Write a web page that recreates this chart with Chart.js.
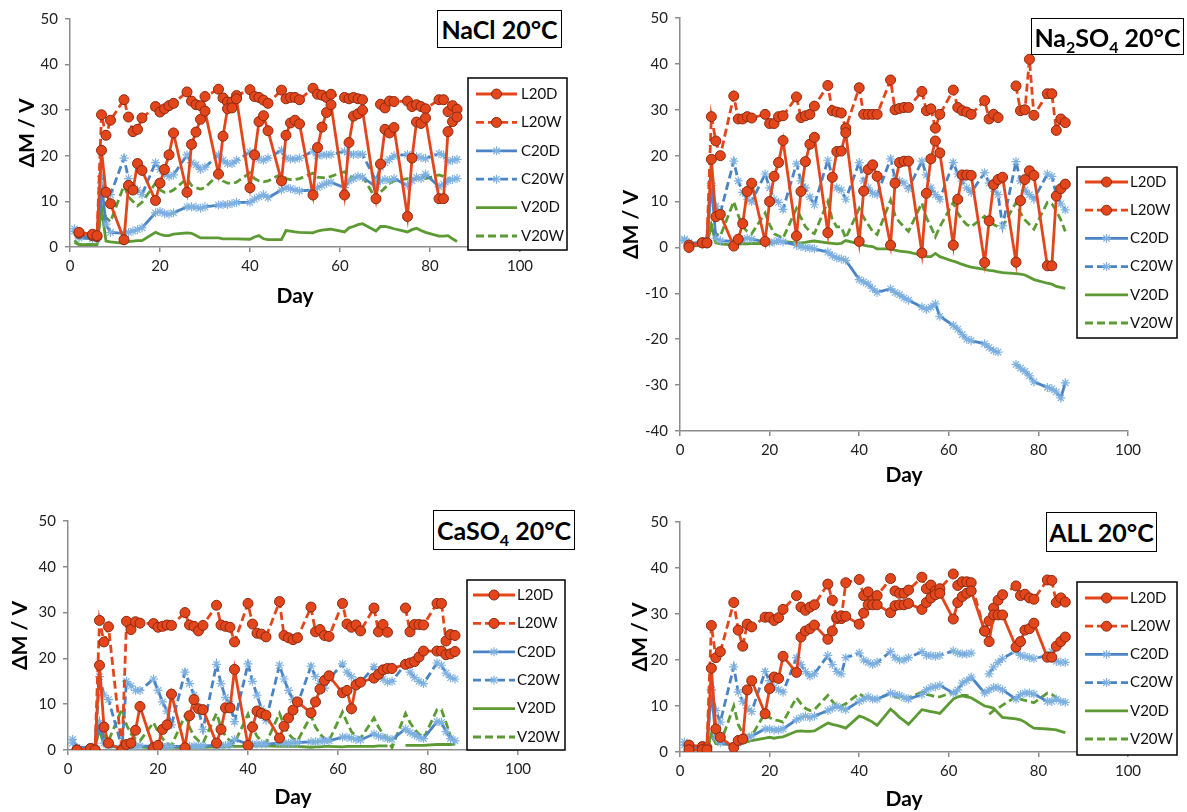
<!DOCTYPE html>
<html>
<head>
<meta charset="utf-8">
<script src="https://cdn.jsdelivr.net/npm/chart.js@4.4.1/dist/chart.umd.min.js"></script>
<style>
  body { margin: 0; background: #fff; width: 1187px; height: 812px; position: relative; overflow: hidden; font-family: Lato, sans-serif; }
  canvas { position: absolute; }
  .tbox { position: absolute; border: 1.5px solid #000; background: #fff; font-weight: bold; font-size: 25px;
          display: flex; align-items: center; justify-content: center; box-sizing: border-box; white-space: nowrap; color: #000; }
  .tbox sub { font-size: 16px; vertical-align: -6px; line-height: 0; }
</style>
</head>
<body>
<canvas id="c1" width="590" height="310" style="left:0;top:0"></canvas>
<canvas id="c2" width="587" height="490" style="left:600px;top:0"></canvas>
<canvas id="c3" width="590" height="312" style="left:0;top:500px"></canvas>
<canvas id="c4" width="587" height="312" style="left:600px;top:500px"></canvas>

<div class="tbox" style="left:437px;top:10px;width:125px;height:38px"><span>NaCl 20°C</span></div>
<div class="tbox" style="left:1031px;top:18px;width:153px;height:37px"><span>Na<sub>2</sub>SO<sub>4</sub> 20°C</span></div>
<div class="tbox" style="left:433px;top:510px;width:142px;height:40px"><span>CaSO<sub>4</sub> 20°C</span></div>
<div class="tbox" style="left:1046px;top:512px;width:111px;height:40px"><span>ALL 20°C</span></div>

<script>
// measurement days (weekends skipped)
var days = [1,2,5,6,7,8,9, 12,13,14,15,16, 19,20,21,22,23, 26,27,28,29,30, 33,34,35,36,37, 40,41,42,43,44,
  47,48,49,50,51, 54,55,56,57,58, 61,62,63,64,65, 68,69,70,71,72, 75,76,77,78,79, 82,83,84,85,86];
var seriesNames = ['L20D', 'L20W', 'C20D', 'C20W', 'V20D', 'V20W'];

// NaCl 20°C
var naclL20D = [null,3.2,2.8,2.5,21.2,12,9.5, 1.6,13.5,12.5,18.3,16.8, 10.2,14,17,20.2,25, 12,22.5,25.2,28,29.8, 16,24.3,30.3,30.5,32.5,
  13,20.2,27.5,28.8,25.5, 14.5,24.5,27.2,27.8,27, 11.4,21.8,26.3,29.5,31.2, 11.4,22.9,28.7,29.2,30, 10.6,18.2,25.8,25,26.2,
  6.7,19.5,27.4,27.1,28.3, 10.6,10.6,25.3,27.5,28.5];
var naclL20W = [null,3,2.5,2.3,29,24.5,27.8, 32.3,28.5,25.3,25.8,28.3, 30.8,29.6,30.3,31,31.5, 34,32,31.2,31,33, 34.6,32.7,31.8,31.8,33.2,
  34.5,33,32.8,32.2,31.5, 34.4,32.5,32.8,32.8,32.3, 34.8,33.5,33.3,32.8,33.5, 32.8,32.5,32.8,32.5,32.3, null,31.3,30.5,32,31.9,
  32,30.8,31.2,30.8,30.3, 32.3,32.3,29.7,31,30.2];
var naclC20D = [3.5,2,1.8,1.8,14,5,3.2, 3,3.2,3.5,3.8,4.2, 7.5,7.8,7.3,7.2,7.5, 8.8,8.8,8.7,8.5,8.8, 9.2,9.3,9.3,9.5,9.8,
  9.8,10.5,11,11.5,10.8, 12.5,13,12.8,12.5,12.3, 12.5,13,13.5,14,14.2, 13,14.5,15,15.5,15.3, 13.2,14.5,14.8,14.6,15,
  13.5,14.5,15.3,15,16, 13.2,13.8,14.5,14.8,15];
var naclC20W = [4,2.5,2,2,15.5,12,11.5, 19.5,15,13,12.5,11.5, 18.5,17,16,15.5,15.8, 20.2,18.5,18,17,17.5, 20.2,19,18.3,18.3,19,
  20.8,20,19.3,19,19.5, 21.2,19.5,19.3,19.3,19.5, 21,20,20.2,20.2,20.3, 21,20.3,20.3,20.3,20.3, 14.5,17.5,18.5,19.2,20,
  20.3,19.6,19.8,19.6,19.4, 20.5,20.2,18.8,19,19.2];
var naclV20D = [1.5,0.5,0.5,0.5,8.5,1.3,1.1, 0.8,1.2,1.3,1.4,1.4, 3.2,2.8,2.5,2.5,2.8, 3.1,3,2.5,2,2, 2,1.8,1.8,1.8,1.8,
  1.7,2.2,2.5,1.8,1.6, 1.6,3.6,3.5,3.3,3.2, 3.1,3.5,3.7,3.8,3.9, 3.3,4.2,4.5,4.9,5.1, 3.5,4.5,4.5,4.3,4,
  3.3,3.8,4.1,3.6,3.2, 2.4,2.4,2.5,1.8,1.2];
var naclV20W = [1,0.5,0.5,0.5,9,6.5,5.5, 13.5,11,10,9,9.8, 14,12.5,12,12,12.5, 15,13.5,13,12.7,13, 16,14.5,14,14,14.2,
  16.3,15,14.5,14.3,14.5, 16,15,14.8,14.8,15, 16.2,15.3,15.2,15.2,15.5, 16.5,15.5,15.3,15.3,15.5, 10.5,12,13,14,14.5,
  15,14.8,15,15,15, 15.8,15.5,15,14.8,15];

// Na2SO4 20°C
var nasoL20D = [null,0,1,1,19.2,6.7,7.2, 0.3,1.8,5.2,12.2,14, 1.3,10,15.5,18.5,23.3, 2.5,12.2,18.7,22.5,24, 3.2,15.3,20.9,21,25,
  1.3,12.3,17,18,15.5, 0.5,14,18.5,18.8,18.8, -1.2,11.8,19.3,23.2,20.6, 0.5,10.5,15.8,15.8,15.7, -3.3,5.8,13.7,14.8,15.3,
  -3.2,10.2,14.8,16.7,15.7, -4,-4,11.2,12.8,13.8];
var nasoL20W = [null,0.5,1,1,28.5,23.2,20, 33,28,28,28.5,28.2, 29,27,27,28.5,28.7, 32.8,28.3,28.7,29,30.8, 35.3,29.8,29.5,29.3,26,
  34.8,29,29,29,29, 36.5,30,30.3,30.5,30.5, 34,29.8,30.2,26,29, 34.3,30.5,29.8,29.5,29, 32,28,29,28.3,null,
  35.2,29.8,30,41,28.8, 33.5,33.5,25.5,28,27.2];
var nasoC20D = [1.8,1,1,1.5,14,2,1.5, 1.3,1.5,1.7,2,1.8, 1.2,1,1.2,1.5,1.2, 0.5,0.2,0,-0.1,-0.3, -1,-1.8,-2.3,-2.5,-2.8,
  -7,-7.5,-8,-9,-9.8, -9,-9.8,-10.3,-11,-11.5, -13,-13.5,-13,-12.3,-15, -17,-17.8,-19,-20,-20.3, -21,-21.8,-22.5,-22.8,null,
  -25.5,-26.3,-27,-28,-29.3, -30.5,-30.8,-31.5,-32.8,-29.5];
var nasoC20W = [1.5,1,1,1.5,13.5,9,7.5, 18.8,14.5,12,10.5,10, 16,13,10.5,9.8,8.3, 18.2,14.5,13,11,9.3, 19,15.5,13,12.5,10.5,
  18.5,14.5,13,11.8,11.5, 19.3,15,14.5,14,12.8, 18.8,15.8,13,11.5,10.5, 18.5,16,14.5,13,12, 16.3,14,12.8,11.5,4.7,
  18.7,14.5,12.5,11.5,10.5, 16,15.5,11.5,9.5,8.2];
var nasoV20D = [0.5,0.3,0.5,0.8,4.8,1,0.8, 0.5,0.7,0.8,0.8,0.9, 0.8,0.8,1,1.2,1.3, 1,1,1.1,1.3,1.4, 1,0.9,0.8,0.9,1.5,
  0.8,0.5,0.3,0.2,-0.3, -0.3,-0.6,-0.8,-0.9,-1, -1.7,-2,-2,-1.3,-2, -3,-3.3,-3.7,-4,-4.3, -4.8,-5,-5.1,-5.3,-5.5,
  -5.7,-5.8,-6,-6.5,-7, -7.8,-8,-8.5,-8.7,-8.9];
var nasoV20W = [0.5,0.3,0.5,0.8,5,3,2.5, 10,7,4.5,3.5,3, 7.5,5,3,2.5,2, 8.5,6.5,4.5,3.5,3, 10,6,4.5,4.5,2,
  8.5,6.5,5,3.5,2.8, 10.3,7,5.5,4.5,3.5, 9.7,6.5,4.5,2.3,4.5, 9.8,7.5,6,5,4.5, 6.8,5.5,5,4.5,4.5,
  9.8,7.5,6,5,4, 9.8,9.5,8,6,3.5];

// CaSO4 20°C
var casoL20D = [null,0,0.3,0,18.5,5,1.5, 0,1.2,1.5,4.3,9.5, 0.5,1,4.5,5.5,12.2, 0.5,7.5,11,9,8.8, 1.5,4.5,9.2,9.2,17.6,
  1,5,8.5,8,7.6, 2.6,5.2,7,8.7,10.5, 8.1,10.5,13.3,15.2,16.2, 12.5,13,9,14.2,14.8, 15.7,16.5,17.5,17.8,17.8,
  18.7,19,19.3,20.3,21.6, 21.6,21.6,20.8,21,21.5];
var casoL20W = [null,0,0.3,0,28.3,23.6,26.9, 0,28.1,26.3,28,27.7, 27.6,26.8,27,27.3,27.2, 30,27.3,27,26,27.2, 31.6,27.3,27,26.8,23.6,
  32,27.5,25.5,25.3,24.7, 32.4,25,24.5,24.1,24.5, 31.2,25.8,26.3,25,24.8, 32,27.5,26.8,27.3,26, 31,25.8,27.4,25.7,null,
  31,25.8,27.4,27.4,27.3, 32,32,23.8,25.2,25];
var casoC20D = [1.5,0.5,0.5,0.8,6,1.5,1, 0.5,0.8,0.8,0.8,0.9, 0.8,0.8,0.8,0.8,0.8, 0.8,0.8,0.9,0.9,0.9, 1,1,1,1.2,2.3,
  1.3,1.2,1.3,1.3,1.3, 1.5,1.5,1.5,1.6,1.6, 1.8,1.8,1.9,2,2, 2.8,2.8,2.6,2.3,2.2, 3.5,3,2.8,2.5,2.3,
  4.6,3.8,3.3,2.8,2.5, 6.2,6,4,2.5,2];
var casoC20W = [2.3,0.5,0.5,0.8,16,12,11, 0.5,15,14,13,13, 15.5,13,10.5,8.5,5.5, 17,14.5,12,9,4.5, 18.7,14.5,11.5,10,6.2,
  18.8,15,12,9,6.5, 18.5,15.5,13,11,10, 18.3,16,14.5,13.5,15.5, 18.8,17,16,15,14.7, 18.2,16.5,15.5,14.8,15,
  18.8,17,15.8,15,14.5, 19,18.5,16.8,15.8,15.5];
var casoV20D = [0.8,0.3,0.5,0.8,4.5,1,0.8, 0.5,0.6,0.6,0.7,0.7, 0.4,0.5,0.6,0.6,0.6, 0.5,0.5,0.6,0.6,0.6, 0.7,0.7,0.7,0.8,0.8,
  0.8,0.9,0.9,0.9,0.9, 0.8,0.8,0.8,0.8,0.8, 0.6,0.7,0.7,0.8,0.8, 0.7,0.8,0.8,0.8,0.8, 0.8,0.9,0.9,0.9,null,
  1,1,1,1,1, 1.2,1.2,1.2,1.2,1.3];
var casoV20W = [0.5,0.3,0.5,0.8,5,3,2, 9,5.5,3.5,2.5,2, 6,4,2.5,1.5,1, 7.5,5,3,2,1.5, 8,5,3,2,1.5,
  7.8,5,3,2,1.5, 8,5.5,3.5,2.5,2, 7.5,5,3.5,2.5,2, 8.3,6,4,3,2.5, 7,5,3.5,2.5,0.5,
  8,6,4.5,3.5,2.5, 8.8,8.8,6,3,2];

// ALL 20°C
var allL20D = [null,0.5,0.5,0.5,18.2,5,3.2, 1,2.5,2.8,13.5,15.5, 8.3,13.8,16.3,16,20.8, 17.3,25,26.3,26.8,27.6, 24.5,26.3,29.3,29.6,29.5,
  27.8,30.2,32,32,32, 30.3,31.8,32,32,32.3, 31,32.5,33.5,34.2,34.5, 28.9,32.5,33.8,34.5,35, 26.3,24,29.8,29.8,29.8,
  22.8,24,26.5,26.8,28, 20.6,20.6,23,24,25];
var allL20W = [null,1.5,1.2,1,27.5,20.5,21.8, 32.5,26.5,23,27.8,27.2, 29.3,29.3,28.6,29.2,31, 34,31.5,30.8,31.5,32, 36.5,33,29,29,36.8,
  37.5,34,34.8,33,34, 37.7,35,34.5,34.5,35.2, 38,35.5,36.3,35,35.5, 38.7,36.2,37,37,36.8, 26.3,28.5,31.3,33,34.2,
  36.1,34,34.3,33.5,33.2, 37.4,37.3,32.5,33.5,32.6];
var allC20D = [1.5,1.2,1.2,1.2,13.5,3,2, 1.5,2,2.5,3,3.5, 5,5,4.8,4.8,5, 7,7.5,7.8,7.5,7.8, 9,9.5,10,9.5,9.2,
  11,11.5,12,11.5,11.5, 12.8,12.5,12.3,11.8,11.5, 12.5,13.5,14,14.2,14.5, 12.8,13.5,15,15.5,16.3, 12.8,13.5,14,14,13.5,
  11.5,12.5,12.8,12.8,12.6, 11,11,11.5,11,10.8];
var allC20W = [2.2,1,1,1,13.5,9,6.5, 18.5,13,11,9.5,8.8, 17.5,15.5,14,13.5,13, 20.5,19,17.5,16.5,17, 21,19,17.5,17,20.5,
  21.5,20,19.5,19,19.5, 21.8,20.5,20,20,20.5, 21.8,21,21,20.8,21, 22,21.5,21.3,21.3,21.5, null,17,18.5,19.5,20.3,
  22,21,20.8,20.5,20.3, 21,21.8,19.7,19.5,19.5];
var allV20D = [0.5,0.5,0.5,0.5,4,1.8,1.8, 1.5,1.8,2,2.2,2.5, 3,3.2,3,3.2,3.3, 4.5,4.6,4.5,4.5,4.6, 6.3,6,5.8,5.5,5.2,
  7.8,7.5,7,6.5,5.8, 9.3,8.5,7.5,6.8,6, 9.2,9,8.8,8.6,8.4, 11.5,12,12.2,12,11.8, 10,9.8,9.5,8.5,7.5,
  7.2,7,6.5,5.8,5.2, 5,4.9,4.8,4.5,4.2];
var allV20W = [0.5,0.5,0.5,0.5,3.5,2,1.8, 10,6,4,3.5,3.5, 8.5,7.5,7,6.8,6.5, 11.8,10.5,9.5,9,9.2, 12.3,11,10,10,10.5,
  12.7,12,11.8,11.5,11.5, 12.8,12,11.8,11.6,11.8, 13,12.5,12.3,12,12, 13,12.5,12.3,12.3,12, null,8.2,9,9.5,10.2,
  12,11.5,11.2,11,10.7, 12.8,12.5,11.8,11.2,10.8];

var RED = '#e4461c', RED_EDGE = '#8a2a10';
var BLUE = '#4a84c4', BLUE_MARK = '#7fb2e2';
var GREEN = '#5c9a33';
var AXIS = '#8c8c8c';

Chart.defaults.font.family = 'Lato, sans-serif';
Chart.defaults.font.size = 15;
Chart.defaults.color = '#222';

// legend box drawn over the plot like the Excel one
var boxLegend = {
  id: 'boxLegend',
  afterDraw: function(chart, args, o) {
    var ctx = chart.ctx;
    ctx.save();
    ctx.fillStyle = '#fff';
    ctx.fillRect(o.x, o.y, o.w, o.h);
    ctx.strokeStyle = '#000';
    ctx.lineWidth = 1.5;
    ctx.setLineDash([]);
    ctx.strokeRect(o.x, o.y, o.w, o.h);
    chart.data.datasets.forEach(function(ds, i) {
      var y = o.row0 + i * o.gap;
      ctx.strokeStyle = ds.borderColor;
      ctx.lineWidth = ds.borderWidth;
      ctx.setLineDash(ds.borderDash || []);
      ctx.beginPath();
      ctx.moveTo(o.lx1, y);
      ctx.lineTo(o.lx2, y);
      ctx.stroke();
      ctx.setLineDash([]);
      if (ds.pointRadius > 0) {
        ctx.fillStyle = ds.pointBackgroundColor;
        ctx.strokeStyle = ds.pointBorderColor;
        ctx.lineWidth = ds.pointBorderWidth;
        Chart.helpers.drawPoint(ctx, {pointStyle: ds.pointStyle, radius: ds.pointRadius, borderWidth: ds.pointBorderWidth, rotation: 0},
          (o.lx1 + o.lx2) / 2, y);
      }
      ctx.fillStyle = '#111';
      ctx.font = '15px Lato, sans-serif';
      ctx.textBaseline = 'middle';
      ctx.textAlign = 'left';
      ctx.fillText(ds.label, o.tx, y);
    });
    ctx.restore();
  }
};

function pts(vals) {
  return days.map(function(d, i) { return {x: d, y: vals[i]}; });
}

function makeSets(list) {
  var circle = {pointStyle: 'circle', pointRadius: 5, pointBackgroundColor: RED, pointBorderColor: RED_EDGE, pointBorderWidth: 1};
  var star = {pointStyle: 'star', pointRadius: 4.5, pointBackgroundColor: BLUE_MARK, pointBorderColor: BLUE_MARK, pointBorderWidth: 1.2};
  var none = {pointRadius: 0, pointBorderWidth: 0};
  var styles = [
    Object.assign({borderColor: RED, borderWidth: 2.8}, circle),
    Object.assign({borderColor: RED, borderWidth: 2.8, borderDash: [8, 4]}, circle),
    Object.assign({borderColor: BLUE, borderWidth: 2.8}, star),
    Object.assign({borderColor: BLUE, borderWidth: 2.8, borderDash: [8, 4]}, star),
    Object.assign({borderColor: GREEN, borderWidth: 2.8}, none),
    Object.assign({borderColor: GREEN, borderWidth: 2.8, borderDash: [8, 4]}, none)
  ];
  return list.map(function(vals, i) {
    return Object.assign({label: seriesNames[i], data: pts(vals), tension: 0, spanGaps: false}, styles[i]);
  });
}

function makeChart(p) {
  var canvas = document.getElementById(p.id);
  new Chart(canvas, {
    type: 'line',
    data: {datasets: makeSets(p.series)},
    options: {
      responsive: false,
      animation: false,
      events: [],
      layout: {padding: {left: 0, right: p.w - p.area.r, top: p.area.t, bottom: 0}},
      plugins: {legend: {display: false}, tooltip: {enabled: false}, boxLegend: p.legend},
      scales: {
        x: {
          type: 'linear', min: 0, max: 100,
          ticks: {stepSize: 20, padding: 5, maxRotation: 0},
          grid: {drawOnChartArea: false, color: AXIS, tickLength: 5, lineWidth: 1.5},
          border: {color: AXIS, width: 1.5},
          title: {display: true, text: 'Day', color: '#000', font: {size: 21, weight: 'bold'}, padding: {top: 0, bottom: p.xPad}},
          afterFit: function(s) { s.height = p.h - p.area.b; }
        },
        y: {
          min: p.yMin, max: 50,
          ticks: {stepSize: 10, padding: 7},
          grid: {drawOnChartArea: false, color: AXIS, tickLength: 5, lineWidth: 1.5},
          border: {color: AXIS, width: 1.5},
          title: {display: true, text: 'ΔM / V', color: '#000', font: {size: 21, weight: 'bold'}, padding: {top: p.yPad, bottom: 0}},
          afterFit: function(s) { s.width = p.area.l; }
        }
      }
    },
    plugins: [boxLegend]
  });
}

var panels = [
  {id: 'c1', w: 590, h: 310, yMin: 0, area: {l: 70, r: 520, t: 19, b: 247}, yPad: 15, xPad: 1,
   legend: {x: 468, y: 78, w: 99, h: 172, lx1: 476, lx2: 517, tx: 521, row0: 94, gap: 28.4},
   series: [naclL20D, naclL20W, naclC20D, naclC20W, naclV20D, naclV20W]},
  {id: 'c2', w: 587, h: 490, yMin: -40, area: {l: 80, r: 528, t: 18, b: 431}, yPad: 19, xPad: 2,
   legend: {x: 477, y: 167, w: 100, h: 171, lx1: 485, lx2: 528, tx: 530, row0: 182, gap: 28.2},
   series: [nasoL20D, nasoL20W, nasoC20D, nasoC20W, nasoV20D, nasoV20W]},
  {id: 'c3', w: 590, h: 312, yMin: 0, area: {l: 68, r: 518, t: 21, b: 250}, yPad: 8, xPad: 2,
   legend: {x: 467, y: 80, w: 98, h: 170, lx1: 473, lx2: 515, tx: 517, row0: 95, gap: 28.4},
   series: [casoL20D, casoL20W, casoC20D, casoC20W, casoV20D, casoV20W]},
  {id: 'c4', w: 587, h: 312, yMin: 0, area: {l: 80, r: 528, t: 22, b: 252}, yPad: 28, xPad: 0,
   legend: {x: 477, y: 82, w: 100, h: 173, lx1: 485, lx2: 528, tx: 530, row0: 98, gap: 28.2},
   series: [allL20D, allL20W, allC20D, allC20W, allV20D, allV20W]}
];

panels.forEach(makeChart);
</script>
</body>
</html>
